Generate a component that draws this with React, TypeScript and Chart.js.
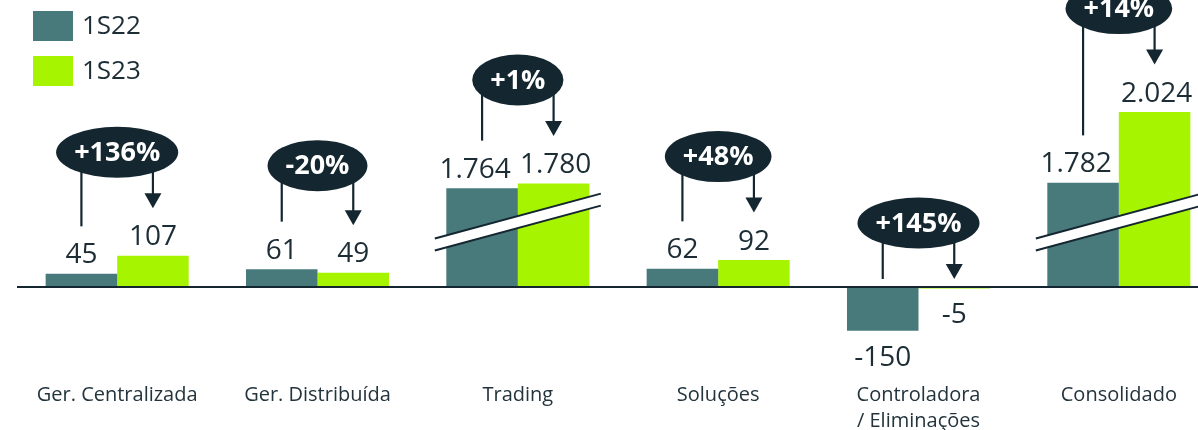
import React, { useEffect, useRef } from "react";
import { Chart, registerables } from "chart.js";

Chart.register(...registerables);

// ---------- data ----------
const categories: string[][] = [
  ["Ger. Centralizada"],
  ["Ger. Distribuída"],
  ["Trading"],
  ["Soluções"],
  ["Controladora", "/ Eliminações"],
  ["Consolidado"],
];
const seriesNames = ["1S22", "1S23"];
const values1S22 = [45, 61, 1764, 62, -150, 1782];
const values1S23 = [107, 49, 1780, 92, -5, 2024];
const changeLabels = ["+136%", "-20%", "+1%", "+48%", "+145%", "+14%"];

// axis break: values above the threshold are drawn shifted down by the offset
const BREAK_THRESHOLD = 1000;
const BREAK_OFFSET = 1426;
const BREAK_MARK = 222; // displayed value where the break symbol sits

// ---------- styles ----------
const TEAL = "#487a7c";
const GREEN = "#a7f400";
const NAVY = "#14262f";
const TEXT = "#1d2d36";
const FONT = '"Open Sans", sans-serif';
const Y_MIN = -488.9;
const Y_MAX = 981.2;
const CAP = 21;

const toDisplay = (v: number) => (v > BREAK_THRESHOLD ? v - BREAK_OFFSET : v);
const fmt = (v: number) =>
  (v < 0 ? "-" : "") + String(Math.abs(v)).replace(/\B(?=(\d{3})+(?!\d))/g, ".");

const overlay = {
  id: "overlay",
  afterDatasetsDraw(chart: any) {
    const ctx: CanvasRenderingContext2D = chart.ctx;
    const xs = chart.scales.x;
    const ys = chart.scales.y;
    const area = chart.chartArea;
    const y0 = ys.getPixelForValue(0);
    const metas = [chart.getDatasetMeta(0).data, chart.getDatasetMeta(1).data];
    const vals = [values1S22, values1S23];
    ctx.save();

    // break symbols
    categories.forEach((_, i) => {
      if (Math.max(values1S22[i], values1S23[i]) <= BREAK_THRESHOLD) return;
      const cx = xs.getPixelForValue(i);
      const cy = ys.getPixelForValue(BREAK_MARK);
      const hl = 83, k = 0.27, half = 6;
      const xa = cx - hl, xb = cx + hl;
      const ya = cy + k * hl, yb = cy - k * hl;
      ctx.beginPath();
      ctx.moveTo(xa, ya - half);
      ctx.lineTo(xb, yb - half);
      ctx.lineTo(xb, yb + half);
      ctx.lineTo(xa, ya + half);
      ctx.closePath();
      ctx.fillStyle = "#ffffff";
      ctx.fill();
      ctx.strokeStyle = NAVY;
      ctx.lineWidth = 2;
      ctx.beginPath();
      ctx.moveTo(xa, ya - half);
      ctx.lineTo(xb, yb - half);
      ctx.moveTo(xa, ya + half);
      ctx.lineTo(xb, yb + half);
      ctx.stroke();
    });

    // zero line
    ctx.fillStyle = NAVY;
    ctx.fillRect(area.left, y0 - 1, chart.width - area.left, 2);

    // value labels, connectors and bubbles
    categories.forEach((cat, i) => {
      const anchors: number[] = [];
      ctx.font = `400 28px ${FONT}`;
      const wide =
        ctx.measureText(fmt(vals[0][i])).width > 64 && ctx.measureText(fmt(vals[1][i])).width > 64;
      for (let j = 0; j < 2; j++) {
        const bar = metas[j][i];
        const v = vals[j][i];
        let baseline: number;
        if (v >= 0) {
          baseline = bar.y - 10.5;
          anchors.push(baseline - CAP - 16);
        } else {
          baseline = bar.y + 35;
          anchors.push(y0 - 8);
        }
        const nudge = wide ? (j === 0 ? -7 : 2) : 0;
        ctx.fillStyle = TEXT;
        ctx.textAlign = "center";
        ctx.textBaseline = "alphabetic";
        ctx.font = `400 28px ${FONT}`;
        ctx.fillText(fmt(v), bar.x + nudge, baseline);
      }

      const cx = xs.getPixelForValue(i);
      const bottom = Math.min(anchors[0], anchors[1]) - 31;
      const cy = bottom - 25;
      ctx.font = `700 27px ${FONT}`;
      const tw = ctx.measureText(changeLabels[i]).width;
      const rx = tw / 2 + 18, ry = 25.5;

      ctx.strokeStyle = NAVY;
      ctx.fillStyle = NAVY;
      ctx.lineWidth = 2.2;
      // left connector
      const xl = metas[0][i].x;
      ctx.beginPath();
      ctx.moveTo(xl, cy);
      ctx.lineTo(xl, anchors[0]);
      ctx.stroke();
      // right arrow
      const xr = metas[1][i].x;
      ctx.beginPath();
      ctx.moveTo(xr, cy);
      ctx.lineTo(xr, anchors[1] - 13);
      ctx.stroke();
      ctx.beginPath();
      ctx.moveTo(xr - 8.5, anchors[1] - 15);
      ctx.lineTo(xr + 8.5, anchors[1] - 15);
      ctx.lineTo(xr, anchors[1]);
      ctx.closePath();
      ctx.fill();
      // bubble
      ctx.beginPath();
      ctx.ellipse(cx, cy, rx, ry, 0, 0, Math.PI * 2);
      ctx.fill();
      ctx.fillStyle = "#ffffff";
      ctx.textAlign = "center";
      ctx.textBaseline = "middle";
      ctx.fillText(changeLabels[i], cx, cy + 1);

      // category label
      ctx.fillStyle = "#24343d";
      ctx.font = `400 20px ${FONT}`;
      ctx.textBaseline = "alphabetic";
      cat.forEach((line, li) => ctx.fillText(line, cx, 401 + li * 26));
    });

    // legend
    const colors = [TEAL, GREEN];
    seriesNames.forEach((name, j) => {
      const top = 11 + j * 45;
      ctx.fillStyle = colors[j];
      ctx.fillRect(33, top, 40, 30);
      ctx.fillStyle = TEXT;
      ctx.font = `400 26px ${FONT}`;
      ctx.textAlign = "left";
      ctx.textBaseline = "middle";
      ctx.fillText(name, 82, top + 16);
    });

    ctx.restore();
  },
};

export default function App() {
  const ref = useRef<HTMLCanvasElement>(null);
  useEffect(() => {
    const canvas = ref.current;
    if (!canvas) return;
    const chart = new Chart(canvas, {
      type: "bar",
      data: {
        labels: categories.map((c) => c.join(" ")),
        datasets: [
          {
            label: seriesNames[0],
            data: values1S22.map(toDisplay),
            backgroundColor: TEAL,
            borderWidth: 0,
          },
          {
            label: seriesNames[1],
            data: values1S23.map(toDisplay),
            backgroundColor: GREEN,
            borderWidth: 0,
          },
        ],
      },
      options: {
        responsive: false,
        animation: false,
        devicePixelRatio: 1,
        layout: { padding: { left: 17, right: 17, top: 0, bottom: 0 } },
        plugins: { legend: { display: false }, tooltip: { enabled: false } },
        datasets: { bar: { barPercentage: 1, categoryPercentage: 0.714 } },
        scales: {
          x: { display: false },
          y: { display: false, min: Y_MIN, max: Y_MAX },
        },
      } as any,
      plugins: [overlay as any],
    });
    return () => chart.destroy();
  }, []);

  return (
    <div
      style={{
        position: "absolute",
        left: 0,
        top: 0,
        width: 1198,
        height: 430,
        overflow: "hidden",
        background: "#ffffff",
      }}
    >
      <canvas ref={ref} width={1236} height={430} style={{ width: 1236, height: 430, display: "block" }} />
    </div>
  );
}
